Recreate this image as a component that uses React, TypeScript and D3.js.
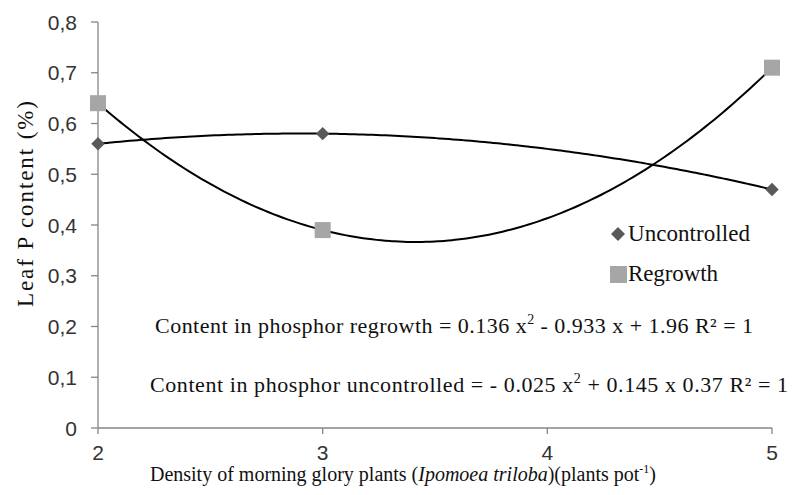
import React, { useEffect, useRef } from 'react';
import * as d3 from 'd3';

const densities = [2, 3, 5];
const uncontrolled = [0.56, 0.58, 0.47];
const regrowth = [0.64, 0.39, 0.71];
const xTicks = [2, 3, 4, 5];
const yTicks = [0, 0.1, 0.2, 0.3, 0.4, 0.5, 0.6, 0.7, 0.8];

const SERIF = '"Liberation Serif", "Times New Roman", serif';
const SANS = '"Liberation Sans", Arial, sans-serif';

// quadratic trendline through three points (Lagrange form)
function quadFit(xs: number[], ys: number[]) {
  return (x: number) => {
    let s = 0;
    for (let i = 0; i < 3; i++) {
      let t = ys[i];
      for (let j = 0; j < 3; j++) {
        if (j !== i) t *= (x - xs[j]) / (xs[i] - xs[j]);
      }
      s += t;
    }
    return s;
  };
}

export default function App() {
  const svgRef = useRef<SVGSVGElement>(null);

  useEffect(() => {
    document.body.style.margin = '0';
    if (!svgRef.current) return;
    const svg = d3.select(svgRef.current);
    svg.selectAll('*').remove();

    const x = d3.scaleLinear().domain([2, 5]).range([98, 772]);
    const y = d3.scaleLinear().domain([0, 0.8]).range([428, 22]);
    const axisColor = '#868686';

    // axes
    svg.append('line').attr('x1', x(2)).attr('x2', x(2)).attr('y1', y(0)).attr('y2', y(0.8))
      .attr('stroke', axisColor).attr('stroke-width', 1.3);
    svg.append('line').attr('x1', x(2)).attr('x2', x(5)).attr('y1', y(0)).attr('y2', y(0))
      .attr('stroke', axisColor).attr('stroke-width', 1.3);

    yTicks.forEach(t => {
      svg.append('line').attr('x1', x(2) - 7).attr('x2', x(2)).attr('y1', y(t)).attr('y2', y(t))
        .attr('stroke', axisColor).attr('stroke-width', 1.3);
      svg.append('text').attr('x', 77).attr('y', y(t)).attr('dy', '0.36em')
        .attr('text-anchor', 'end').attr('font-family', SANS).attr('font-size', 21).attr('fill', '#333')
        .text(t === 0 ? '0' : t.toFixed(1).replace('.', ','));
    });
    xTicks.forEach(t => {
      svg.append('line').attr('x1', x(t)).attr('x2', x(t)).attr('y1', y(0)).attr('y2', y(0) + 6)
        .attr('stroke', axisColor).attr('stroke-width', 1.3);
      svg.append('text').attr('x', x(t)).attr('y', 460)
        .attr('text-anchor', 'middle').attr('font-family', SANS).attr('font-size', 21).attr('fill', '#333')
        .text(String(t));
    });

    // axis titles
    svg.append('text').attr('transform', 'translate(33,204) rotate(-90)')
      .attr('text-anchor', 'middle').attr('font-family', SERIF).attr('font-size', 23).attr('fill', '#111')
      .attr('textLength', 206).attr('lengthAdjust', 'spacing')
      .text('Leaf P content (%)');

    const xt = svg.append('text').attr('x', 403).attr('y', 481).attr('text-anchor', 'middle')
      .attr('font-family', SERIF).attr('font-size', 20).attr('fill', '#111');
    xt.append('tspan').text('Density of morning glory plants (');
    xt.append('tspan').attr('font-style', 'italic').text('Ipomoea triloba');
    xt.append('tspan').text(')(plants pot');
    xt.append('tspan').attr('font-size', 12).attr('dy', -8).text('-1');
    xt.append('tspan').attr('dy', 8).text(')');

    // trendlines
    const samples = d3.range(2, 5.0001, 0.02);
    const line = d3.line<number>().x(d => x(d)).curve(d3.curveBasis);
    const fitR = quadFit(densities, regrowth);
    const fitU = quadFit(densities, uncontrolled);
    svg.append('path').attr('d', line.y(d => y(fitR(d)))(samples))
      .attr('fill', 'none').attr('stroke', '#000').attr('stroke-width', 2);
    svg.append('path').attr('d', line.y(d => y(fitU(d)))(samples))
      .attr('fill', 'none').attr('stroke', '#000').attr('stroke-width', 2);

    // markers
    const diamond = d3.symbol().type(d3.symbolDiamond2).size(115);
    svg.selectAll('.u').data(densities).join('path')
      .attr('transform', (d, i) => `translate(${x(d)},${y(uncontrolled[i])})`)
      .attr('d', diamond()).attr('fill', '#595959');
    svg.selectAll('.r').data(densities).join('rect')
      .attr('x', d => x(d) - 8).attr('y', (d, i) => y(regrowth[i]) - 8)
      .attr('width', 16).attr('height', 16).attr('fill', '#A6A6A6');

    // legend
    svg.append('path').attr('transform', 'translate(618,234)')
      .attr('d', d3.symbol().type(d3.symbolDiamond2).size(125)()).attr('fill', '#595959');
    svg.append('text').attr('x', 628).attr('y', 241).attr('font-family', SERIF).attr('font-size', 23)
      .attr('fill', '#111').attr('textLength', 122).attr('lengthAdjust', 'spacing').text('Uncontrolled');
    svg.append('rect').attr('x', 610).attr('y', 266).attr('width', 17).attr('height', 17).attr('fill', '#A6A6A6');
    svg.append('text').attr('x', 628).attr('y', 281).attr('font-family', SERIF).attr('font-size', 23)
      .attr('fill', '#111').attr('textLength', 90).attr('lengthAdjust', 'spacing').text('Regrowth');

    // equations
    const eq1 = svg.append('text').attr('x', 155).attr('y', 333).attr('font-family', SERIF)
      .attr('font-size', 22).attr('fill', '#111')
      .attr('textLength', 598).attr('lengthAdjust', 'spacing');
    eq1.append('tspan').text('Content in phosphor regrowth = 0.136 x');
    eq1.append('tspan').attr('font-size', 14).attr('dy', -9).text('2');
    eq1.append('tspan').attr('dy', 9).text(' - 0.933 x + 1.96  R² = 1');

    const eq2 = svg.append('text').attr('x', 150).attr('y', 392).attr('font-family', SERIF)
      .attr('font-size', 22).attr('fill', '#111')
      .attr('textLength', 638).attr('lengthAdjust', 'spacing');
    eq2.append('tspan').text('Content in phosphor uncontrolled  = - 0.025 x');
    eq2.append('tspan').attr('font-size', 14).attr('dy', -9).text('2');
    eq2.append('tspan').attr('dy', 9).text(' + 0.145 x 0.37  R² = 1');
  }, []);

  return <svg ref={svgRef} width={794} height={495} style={{ display: 'block', background: '#fff' }} />;
}
